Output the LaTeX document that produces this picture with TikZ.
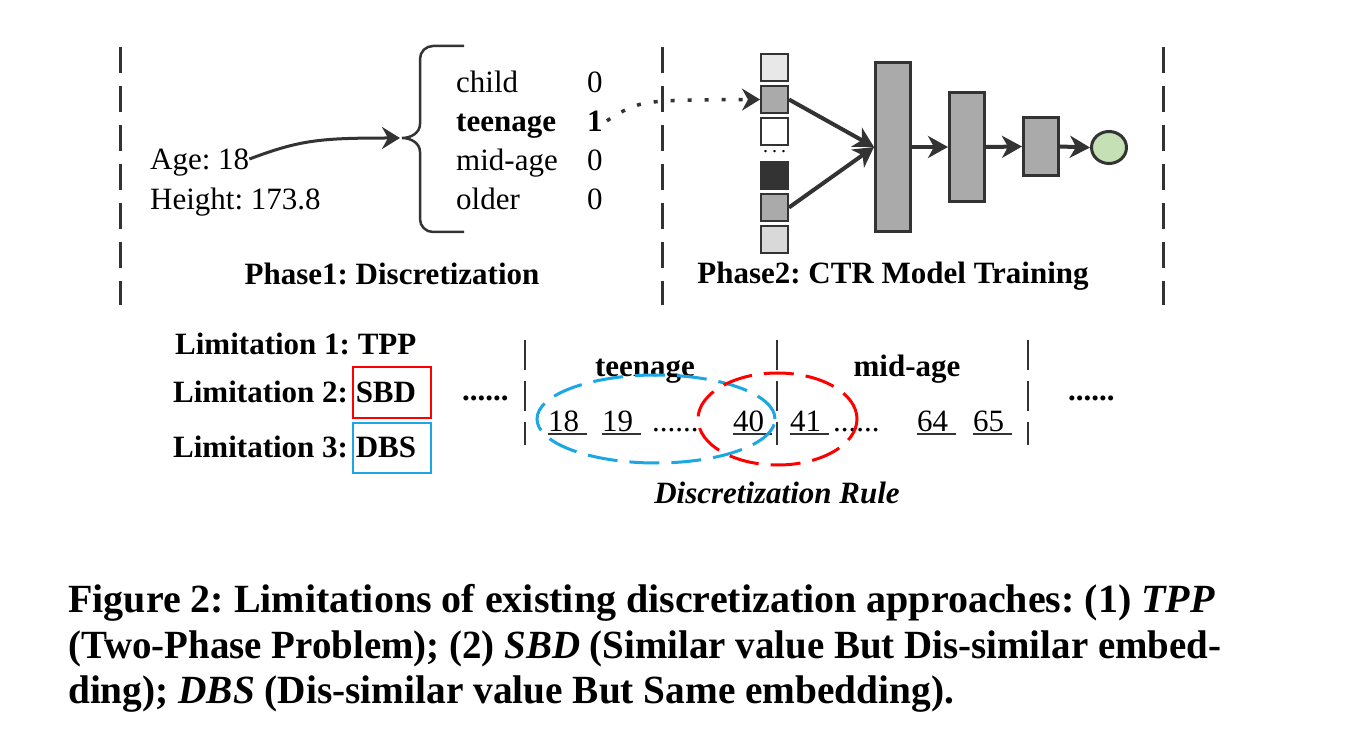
\documentclass[tikz,border=0pt]{standalone}
\usepackage{fontspec}
\setmainfont{Liberation Serif}
\usetikzlibrary{arrows.meta,positioning,shapes.geometric}
\definecolor{linegray}{HTML}{333333}
\definecolor{cellgray}{HTML}{AAAAAA}
\definecolor{cellpale}{HTML}{E8E8E8}
\definecolor{celllight}{HTML}{D9D9D9}
\definecolor{cyanline}{HTML}{1AA7E4}
\definecolor{outgreen}{HTML}{C5E0B4}
\frenchspacing
\begin{document}
\begin{tikzpicture}[x=1pt,y=1pt,
	txt/.style={inner sep=0pt,anchor=base west,font=\fontsize{31}{31}\selectfont},
	btxt/.style={txt,font=\fontsize{31}{31}\selectfont\bfseries},
	captxt/.style={inner sep=0pt,anchor=base west,font=\fontsize{40}{40}\selectfont\bfseries},
	phasesep/.style={linegray,line width=3pt,dash pattern=on 26pt off 13pt},
	binsep/.style={linegray,line width=2.5pt,dash pattern=on 30pt off 11pt},
	cell/.style={draw=linegray,line width=2pt,minimum width=27pt,minimum height=27pt,inner sep=0pt},
	layer/.style={draw=linegray,line width=3pt,fill=cellgray,minimum width=35pt,inner sep=0pt},
	flow/.style={linegray,line width=4pt,-{Stealth[length=20pt,width=22pt,inset=6pt]}}]
	\fill[white] (0,0) rectangle (1350,732);
	\useasboundingbox (0,0) rectangle (1350,732);
	%	phase borders
	\foreach \x in {120,662,1163} \draw[phasesep] (\x,685) -- (\x,427);
	%PHASE 1
	\node[txt] (age) at (150,562) {Age: 18};
	\node[txt] (height) at (150,522) {Height: 173.8};
	\node[txt] (child) at (456,639) {child};
	\node[btxt] (teen) at (456,600) {teenage};
	\node[txt] (mid) at (456,561) {mid-age};
	\node[txt] (old) at (456,522) {older};
	\node[txt] (v1) at (587,639) {0};
	\node[btxt] (v2) at (587,600) {1};
	\node[txt] (v3) at (587,561) {0};
	\node[txt] (v4) at (587,522) {0};
	\coordinate (tip) at (402,594);
	\draw[linegray,line width=2.5pt] (464,686) -- (433,686) to[out=180,in=90] (420,673) -- (420,608) to[out=-90,in=0] (tip) to[out=0,in=90] (420,580) -- (420,513) to[out=-90,in=180] (433,500) -- (464,500);
	\draw[linegray,line width=3pt,-{Stealth[length=18pt,width=22pt,inset=6pt]}] ([yshift=4pt]age.east) .. controls (300,592) and (320,594) .. ([xshift=-2pt]tip);
	\node[btxt,anchor=base] (ph1) at (392,447) {Phase1: Discretization};
	%PHASE 2
	\foreach \n/\y/\c in {1/664.5/cellpale,2/632.5/cellgray,3/600.5/white,4/556.5/linegray,5/524.5/cellgray,6/492.5/celllight}
		\node[cell,fill=\c] (e\n) at (774.5,\y) {};
	\node[inner sep=0pt,font=\fontsize{20}{20}\selectfont] (edots) at (774.5,580) {.\hspace{4pt}.\hspace{4pt}.};
	\node[layer,minimum height=169pt] (h1) at (893,585) {};
	\node[layer,minimum height=109pt] (h2) at (967,585) {};
	\node[layer,minimum height=58pt] (h3) at (1041,585.5) {};
	\node[ellipse,draw=linegray,line width=3pt,fill=outgreen,minimum width=35pt,minimum height=32pt,inner sep=0pt] (out) at (1109,584.5) {};
	\draw[linegray,line width=3.5pt,dash pattern=on 4pt off 13pt,-{Stealth[length=18pt,width=22pt,inset=6pt]}] ([xshift=4pt,yshift=1pt]v2.east) .. controls (640,632) .. (e2.west);
	\draw[flow] (e2.east) -- (h1.west);
	\draw[flow] (e5.east) -- (h1.west);
	\draw[flow] (h1.east) -- (h2.west);
	\draw[flow] (h2.east) -- (h3.west);
	\draw[flow] (h3.east) -- (out.west);
	\node[btxt,anchor=base] (ph2) at (893,448) {Phase2: CTR Model Training};
	%LIMITATIONS
	\node[btxt] (lim1) at (175,377) {Limitation 1: TPP};
	\node[btxt] (lim2) at (173,329) {Limitation 2: SBD};
	\node[btxt] (lim3) at (173,275) {Limitation 3: DBS};
	\draw[red,line width=2.5pt] (353,365) rectangle (431,314);
	\draw[cyanline,line width=2.5pt] (353,309) rectangle (431,259);
	\node[btxt] (ldots) at (462,331) {......};
	\node[btxt] (rdots) at (1068,331) {......};
	%DISCRETIZATION RULE
	\foreach \x in {525,777,1028} \draw[binsep] (\x,392) -- (\x,287);
	\node[btxt,anchor=base] (tbin) at (645,355) {teenage};
	\node[btxt,anchor=base] (mbin) at (907,355) {mid-age};
	\foreach \v/\x in {18/548,19/602,40/733,41/790,64/917,65/973} {
		\node[txt] (n\v) at (\x,300) {\v};
		\draw[linegray,line width=1.5pt] ([yshift=-2pt]n\v.base west) -- ([xshift=8pt,yshift=-2pt]n\v.base east);
	}
	\node[txt] (d1) at (652,300) {......};
	\node[txt] (d2) at (833,300) {......};
	\draw[cyanline,line width=3pt,dash pattern=on 30pt off 12pt] (656,313) ellipse [x radius=119pt,y radius=44pt];
	\draw[red,line width=3pt,dash pattern=on 30pt off 12pt] (777.5,313) ellipse [x radius=79.5pt,y radius=46pt];
	\node[txt,anchor=base,font=\fontsize{31}{31}\selectfont\bfseries\itshape] (rule) at (777,229) {Discretization Rule};
	%CAPTION
	\node[captxt] (cap1) at (68,120) {Figure 2: Limitations of existing discretization approaches: (1) \textit{TPP}};
	\node[captxt,xscale=0.973,transform shape] (cap2) at (68,74) {(Two-Phase Problem); (2) \textit{SBD} (Similar value But Dis-similar embed-};
	\node[captxt,xscale=0.983,transform shape] (cap3) at (68,29) {ding); \textit{DBS} (Dis-similar value But Same embedding).};
\end{tikzpicture}
\end{document}
